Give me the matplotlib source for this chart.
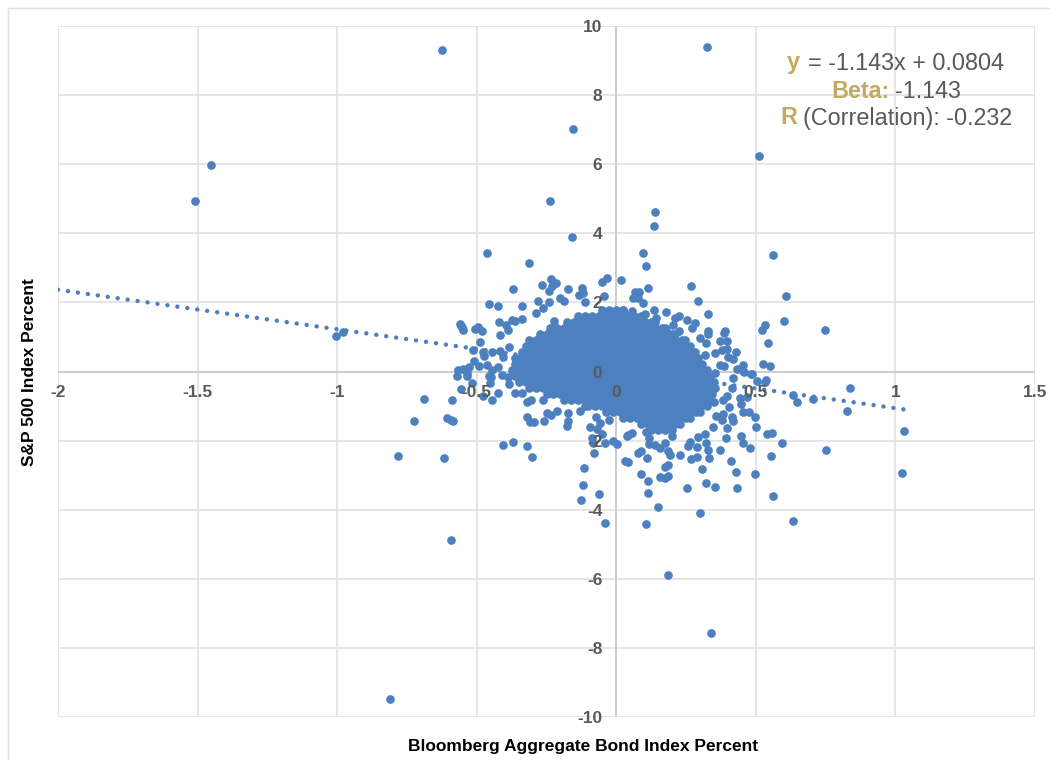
import matplotlib
matplotlib.use("Agg")
import matplotlib.pyplot as plt
from matplotlib.patches import Rectangle

plt.rcParams['font.family'] = ['Liberation Sans', 'DejaVu Sans']

W, H = 1050, 760
X_LABEL = "Bloomberg Aggregate Bond Index Percent"
Y_LABEL = "S&P 500 Index Percent"
x_ticks = [-2, -1.5, -1, -0.5, 0, 0.5, 1, 1.5]
x_tick_labels = ["-2", "-1.5", "-1", "-0.5", "0", "0.5", "1", "1.5"]
y_ticks = [-10, -8, -6, -4, -2, 0, 2, 4, 6, 8, 10]
y_tick_labels = ["-10", "-8", "-6", "-4", "-2", "0", "2", "4", "6", "8", "10"]
trend_x = [-2.0, 1.04]
trend_y = [2.366, -1.108]

# points readable one by one, around and outside the dense centre
outer_x = [-1.509,-1.452,-.624,.326,-.154,.513,-.237,.14,.136,-.158,-1.004,-.978,.749,.839,.828,1.032,1.022,.753,.634,
 .301,.108,-.039,.151,.186,.341,-.591,-.81,-.781,-.724,-.688,
 -.462,-.312,-.369,-.265,-.233,-.215,-.229,-.24,-.172,-.122,-.118,-.133,-.05,-.032,.018,-.043,-.455,-.423,-.337,-.28,
 -.24,-.2,-.186,-.111,-.287,-.262,-.419,-.373,-.362,-.337,-.222,-.394,-.387,-.559,-.552,-.548,-.556,-.505,-.495,-.48,
 -.416,-.487,-.513,-.477,-.473,-.444,-.416,-.384,-.405,-.509,-.491,-.527,-.566,-.548,-.57,-.534,-.534,-.462,-.444,-.455,-.423,
 -.516,-.556,-.588,-.477,-.444,-.423,-.452,-.448,-.606,-.591,-.584,-.405,-.369,-.319,-.301,-.616,-.319,-.308,-.294,-.258,
 -.247,-.233,-.211,-.172,-.129,-.172,-.176,-.093,-.072,-.057,-.068,-.05,-.086,-.082,-.039,-.011,.004,-.079,.039,.032,.043,
 -.115,-.118,-.061,-.125,-.025,-.319,-.305,-.262,-.362,-.337,-.384,-.409,-.387,
 .419,.416,.459,.487,.505,.534,.634,.649,.706,.444,.448,.47,.398,.384,.351,.405,.455,.477,.498,.502,.384,.38,.416,.419,.358,
 .348,.398,.319,.394,.448,.455,.48,.541,.559,.595,.556,.373,.323,.33,.333,.29,.29,.269,.265,.258,.229,.194,.186,.176,.158,
 .14,.118,.118,.201,.294,.043,.057,.108,.079,.09,.111,.176,.186,.09,.115,.158,.176,.186,.115,.254,.308,.323,.355,.412,.43,
 .434,.498,.563,.097,.108,.115,.269,.294,.33,.068,.082,.061,.079,.097,.025,.057,.104,.136,.179,.226,.211,.254,.283,.143,.1,
 .179,.226,.204,.272,.33,.33,.391,.387,.373,.398,.301,.323,.398,.38,.43,.419,.401,.319,.355,.387,.455,.434,.455,.484,.527,
 .552,.355,.373,.534,.523,.602,.545,.609,.563,.538]
outer_y = [4.93,5.98,9.3,9.39,7.02,6.24,4.93,4.61,4.21,3.89,1.03,1.14,1.2,-.48,-1.14,-1.72,-2.94,-2.27,-4.33,
 -4.1,-4.42,-4.38,-3.92,-5.89,-7.57,-4.88,-9.48,-2.45,-1.43,-.8,
 3.43,3.14,2.39,2.5,2.68,2.56,2.47,2.33,2.39,2.42,2.27,2.21,2.59,2.71,2.65,2.19,1.95,1.9,1.9,2.04,
 2.01,2.13,2.04,2.01,1.69,1.84,1.43,1.49,1.46,1.52,1.46,1.35,1.2,1.37,1.29,1.2,1.32,1.23,1.29,1.17,
 1.06,.85,.62,.56,.45,.56,.59,.71,.42,.3,.16,.13,.04,.07,-.13,-.04,-.13,.19,.04,-.13,.13,
 -.33,-.5,-.82,-.71,-.82,-.62,-.33,-.15,-1.35,-1.4,-1.43,-2.13,-2.04,-2.16,-2.47,-2.5,-1.32,-1.46,-1.46,-1.43,
 -1.2,-1.26,-1.14,-1.2,-1.14,-1.43,-1.58,-1.61,-1.32,-1.49,-1.66,-1.81,-1.92,-2.07,-2.07,-2.01,-2.1,-2.36,-1.87,-2.59,-2.62,
 -2.79,-3.29,-3.55,-3.72,-1.4,-.88,-.82,-.82,-.62,-.62,-.36,-.1,-.16,
 -.19,-.48,0,-.07,-.27,-.3,-.68,-.88,-.8,-.77,-.94,-.74,-.71,-.82,-.88,-1.03,-1.17,-1.17,-1.32,-1.61,-1.23,-1.4,-1.32,-1.43,-1.29,
 -1.61,-1.64,-1.81,-1.92,-1.87,-2.07,-2.21,-1.81,-1.78,-2.07,-2.45,-2.27,-2.07,-2.27,-2.5,-2.19,-2.47,-2.53,-2.04,-2.16,-2.42,-2.42,-2.3,-2.07,-2.21,
 -2.13,-2.1,-1.92,-1.87,-1.9,-1.84,-1.78,-1.75,-2.36,-2.3,-2.5,-2.76,-2.71,-2.97,-3.17,-3.05,-3.08,-3.03,-3.52,-3.37,-2.82,-3.23,-3.34,-2.59,-2.91,
 -3.37,-2.97,-3.6,3.43,3.05,2.42,2.47,2.04,1.66,2.3,2.3,2.13,2.13,1.98,1.78,1.75,1.66,1.78,1.72,1.61,1.55,1.49,1.4,1.55,1.46,
 1.23,1.17,1.35,1.26,1.17,1.09,1.17,1.11,.88,.88,.97,.82,.65,.62,.56,.36,.42,.48,.54,.16,.19,.07,.01,-.07,.22,
 .16,-.04,.19,1.35,1.2,1.46,.82,2.19,3.37,-.25]

# dense centre, estimated row by row from the extent of the solid blue area
core_y = [1.78,1.61,1.43,1.26,1.09,.91,.74,.56,.39,.22,.04,-.13,-.30,-.48,-.65,-.82,-1.0,-1.17,-1.35,-1.52,-1.69]
row_01 = [-.05,-.025,0,.025]
row_02 = [-.138,-.113,-.088,-.063,-.038,-.013,.012,.037,.062,.087]
row_03 = [-.175,-.15,-.125,-.1,-.075,-.05,-.025,0,.025,.05,.075,.1,.125,.14]
row_04 = [-.238,-.213,-.188,-.163,-.138,-.113,-.088,-.063,-.038,-.013,.012,.037,.062,.087,.112,.137,.162,.176]
row_05 = [-.275,-.25,-.225,-.2,-.175,-.15,-.125,-.1,-.075,-.05,-.025,0,.025,.05,.075,.1,.125,.15,.175,.2,.211]
row_06 = [-.313,-.288,-.263,-.238,-.213,-.188,-.163,-.138,-.113,-.088,-.063,-.038,-.013,.012,.037,.062,.087,.112,.137,.162,.187,.212,.237,.247]
row_07 = [-.325,-.3,-.275,-.25,-.225,-.2,-.175,-.15,-.125,-.1,-.075,-.05,-.025,0,.025,.05,.075,.1,.125,.15,.175,.2,.225,.25,.265]
row_08 = [-.338,-.313,-.288,-.263,-.238,-.213,-.188,-.163,-.138,-.113,-.088,-.063,-.038,-.013,.012,.037,.062,.087,.112,.137,.162,.187,.212,.237,.262,.283]
row_09 = [-.362,-.35,-.325,-.3,-.275,-.25,-.225,-.2,-.175,-.15,-.125,-.1,-.075,-.05,-.025,0,.025,.05,.075,.1,.125,.15,.175,.2,.225,.25,.275,.294]
row_10 = [-.363,-.338,-.313,-.288,-.263,-.238,-.213,-.188,-.163,-.138,-.113,-.088,-.063,-.038,-.013,.012,.037,.062,.087,.112,.137,.162,.187,.212,.237,.262,.287,.308]
row_11 = [-.375,-.35,-.325,-.3,-.275,-.25,-.225,-.2,-.175,-.15,-.125,-.1,-.075,-.05,-.025,0,.025,.05,.075,.1,.125,.15,.175,.2,.225,.25,.275,.3,.325]
row_12 = [-.363,-.338,-.313,-.288,-.263,-.238,-.213,-.188,-.163,-.138,-.113,-.088,-.063,-.038,-.013,.012,.037,.062,.087,.112,.137,.162,.187,.212,.237,.262,.287,.312,.337]
row_13 = [-.35,-.325,-.3,-.275,-.25,-.225,-.2,-.175,-.15,-.125,-.1,-.075,-.05,-.025,0,.025,.05,.075,.1,.125,.15,.175,.2,.225,.25,.275,.3,.325,.35]
row_14 = [-.313,-.288,-.263,-.238,-.213,-.188,-.163,-.138,-.113,-.088,-.063,-.038,-.013,.012,.037,.062,.087,.112,.137,.162,.187,.212,.237,.262,.287,.312,.337,.355]
row_15 = [-.25,-.225,-.2,-.175,-.15,-.125,-.1,-.075,-.05,-.025,0,.025,.05,.075,.1,.125,.15,.175,.2,.225,.25,.275,.3,.325,.344]
row_16 = [-.188,-.163,-.138,-.113,-.088,-.063,-.038,-.013,.012,.037,.062,.087,.112,.137,.162,.187,.212,.237,.262,.287,.312,.337]
row_17 = [-.111,-.1,-.075,-.05,-.025,0,.025,.05,.075,.1,.125,.15,.175,.2,.225,.25,.275,.3,.325]
row_18 = [-.038,-.013,.012,.037,.062,.087,.112,.137,.162,.187,.212,.237,.262,.287,.301]
row_19 = [.025,.05,.075,.1,.125,.15,.175,.2,.225,.25,.265]
row_20 = [.087,.112,.137,.162,.187,.212,.229]
row_21 = [.125,.15,.175,.2]
core_rows = [row_01,row_02,row_03,row_04,row_05,row_06,row_07,row_08,row_09,row_10,row_11,
             row_12,row_13,row_14,row_15,row_16,row_17,row_18,row_19,row_20,row_21]

all_x = list(outer_x)
all_y = list(outer_y)
for yy, row in zip(core_y, core_rows):
    all_x += row
    all_y += [yy] * len(row)

BLUE = "#4c80be"
GRID = "#e2e2e2"
AXIS = "#c8c8c8"
GREY = "#595959"
GOLD = "#c4a962"

fig = plt.figure(figsize=(W / 100, H / 100), dpi=100, facecolor="white")
fig.add_artist(Rectangle((8 / W, -0.2), 1.2, 1 - 8 / H + 0.2, transform=fig.transFigure,
                         fill=False, edgecolor="#e0e0e0", linewidth=1))
rect = [58 / W, 1 - 717 / H, 977 / W, 691 / H]

ax = fig.add_axes(rect)
ax.set_xlim(-2, 1.5)
ax.set_ylim(-10, 10)
ax.set_xticks(x_ticks)
ax.set_yticks(y_ticks)
ax.tick_params(length=0, labelbottom=False, labelleft=False)
ax.grid(True, color=GRID, linewidth=1.2)
ax.set_axisbelow(True)
for s in ax.spines.values():
    s.set_visible(False)
ax.plot(trend_x, trend_y, color=BLUE, linewidth=3.2, linestyle=(0, (0.01, 2.25)),
        dash_capstyle="round", zorder=2)
ax.scatter(all_x, all_y, s=39, color=BLUE, linewidths=0, zorder=3, clip_on=False)

# transparent layer that keeps the tick labels above the points
top = fig.add_axes(rect, facecolor="none")
top.set_xlim(-2, 1.5)
top.set_ylim(-10, 10)
top.set_xticks(x_ticks, x_tick_labels)
top.set_yticks(y_ticks, y_tick_labels)
top.spines["top"].set_visible(False)
top.spines["right"].set_visible(False)
top.spines["left"].set_position("zero")
top.spines["bottom"].set_position("zero")
top.spines["left"].set_visible(False)
top.spines["bottom"].set_visible(False)
ax.axhline(0, color=AXIS, linewidth=1.2, zorder=1)
ax.axvline(0, color=AXIS, linewidth=1.2, zorder=1)
top.tick_params(length=0, pad=10, labelsize=12.5, labelcolor=GREY)
for lab in top.get_xticklabels() + top.get_yticklabels():
    lab.set_fontweight("bold")


def px_text(x, y, s, **kw):
    fig.text(x / W, 1 - y / H, s, va="center", **kw)


px_text(583, 746, X_LABEL, ha="center", fontsize=12.5, fontweight="bold", color="black")
px_text(30, 372, Y_LABEL, ha="center", rotation=90, fontsize=12.5, fontweight="bold", color="black")

FS = 16.8
px_text(787, 63, "y", ha="left", fontsize=FS, fontweight="bold", color=GOLD)
px_text(808, 63, "= -1.143x + 0.0804", ha="left", fontsize=FS, color=GREY)
px_text(831, 91, "Beta:", ha="left", fontsize=FS, fontweight="bold", color=GOLD)
px_text(895, 91, "-1.143", ha="left", fontsize=FS, color=GREY)
px_text(780, 118, "R", ha="left", fontsize=FS, fontweight="bold", color=GOLD)
px_text(803, 118, "(Correlation): -0.232", ha="left", fontsize=FS, color=GREY)

fig.savefig("out.png", dpi=100, facecolor="white")
